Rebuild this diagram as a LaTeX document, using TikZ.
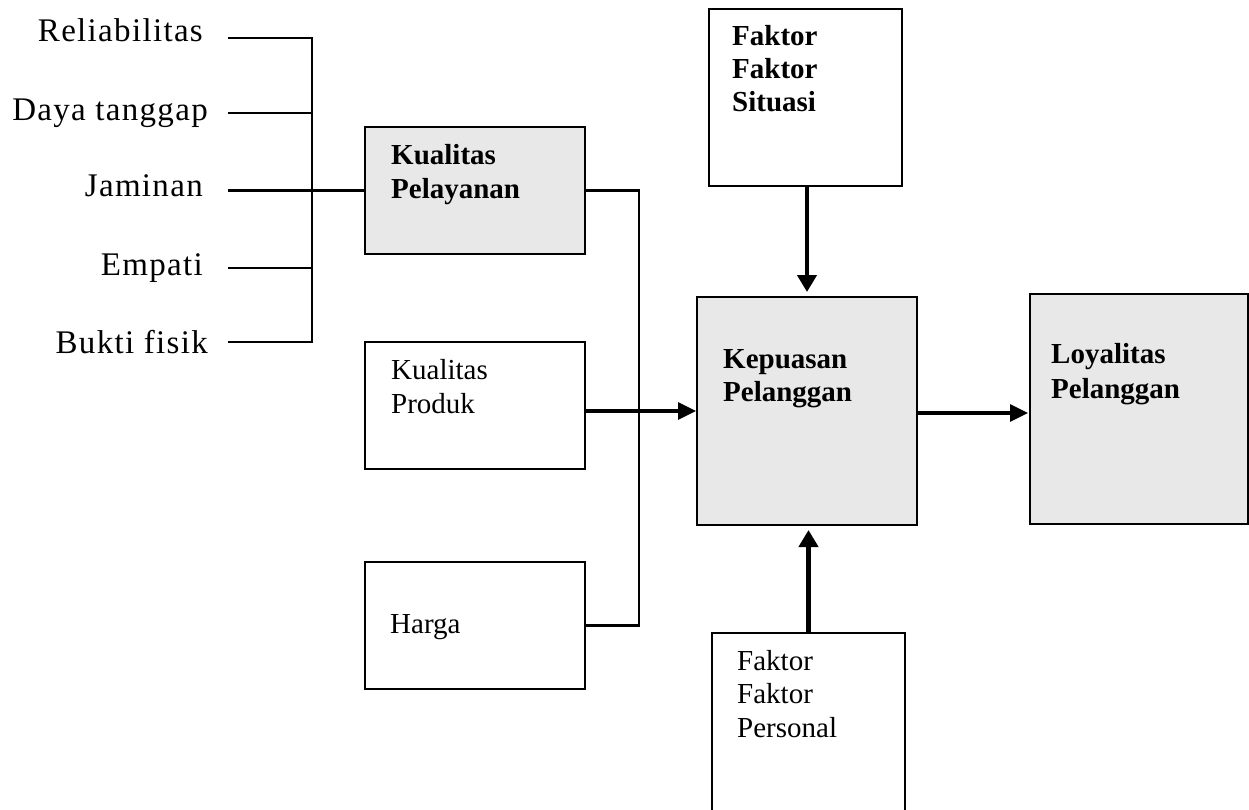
\documentclass[tikz,border=0pt]{standalone}
\usepackage{fontspec}
\setmainfont{Liberation Serif}
\usetikzlibrary{arrows.meta}
\definecolor{boxgray}{HTML}{E8E8E8}
\begin{document}
\begin{tikzpicture}[x=1pt,y=-1pt,
  frame/.style={draw=black,line width=2.7pt,inner sep=0pt,outer sep=0pt},
  conn/.style={line width=2.7pt},
  arrv/.style={line width=4.2pt,-{Triangle[length=17pt,width=19pt]}},
  arrh/.style={line width=3.3pt,-{Triangle[length=18pt,width=17pt]}},
  side/.style={inner sep=0pt,anchor=base east,font=\fontsize{33}{38}\selectfont\addfontfeatures{LetterSpace=4}},
  intext/.style={inner sep=0pt,anchor=base west,align=left,font=\fontsize{29}{34}\selectfont},
  boldtext/.style={intext,font=\fontsize{29}{34}\selectfont\bfseries},
]
\useasboundingbox (0,0) rectangle (1249,809);
\clip (0,0) rectangle (1249,809);
% boxes
\node[frame,fill=boxgray,minimum width=220pt,minimum height=127pt] (kp) at (475,190.5) {};
\node[frame,minimum width=220pt,minimum height=127pt] (kpr) at (475,405.5) {};
\node[frame,minimum width=220pt,minimum height=127pt] (hg) at (475,625.5) {};
\node[frame,minimum width=193pt,minimum height=177pt] (fs) at (805.5,97.5) {};
\node[frame,fill=boxgray,minimum width=220pt,minimum height=228pt] (kep) at (807,411) {};
\node[frame,fill=boxgray,minimum width=218pt,minimum height=230pt] (loy) at (1139,409) {};
\node[frame,minimum width=193pt,minimum height=217pt] (fp) at (808.5,741.5) {};
% texts (anchor = baseline of the last line)
\node[boldtext] (tkp) at (391,198) {Kualitas\\Pelayanan};
\node[intext] (tkpr) at (391,413) {Kualitas\\Produk};
\node[intext] (thg) at (390,633) {Harga};
\node[boldtext,font=\fontsize{29}{33}\selectfont\bfseries] (tfs) at (732,111) {Faktor\\Faktor\\Situasi};
\node[boldtext,font=\fontsize{29}{33}\selectfont\bfseries] (tkep) at (723,401) {Kepuasan\\Pelanggan};
\node[boldtext,font=\fontsize{29}{35}\selectfont\bfseries] (tloy) at (1051,398) {Loyalitas\\Pelanggan};
\node[intext,font=\fontsize{29}{33.5}\selectfont] (tfp) at (737,737) {Faktor\\Faktor\\Personal};
% left labels
\node[side] (rel) at (203,41) {Reliabilitas};
\node[side] (day) at (208,120) {Daya tanggap};
\node[side] (jam) at (203,196) {Jaminan};
\node[side] (emp) at (203,275) {Empati};
\node[side] (buk) at (208,353) {Bukti fisik};
\coordinate (l1) at (228,38);
\coordinate (l2) at (228,113);
\coordinate (l3) at (228,190.5);
\coordinate (l4) at (228,268);
\coordinate (l5) at (228,342);
\coordinate (b1) at (312,38);
\coordinate (b5) at (312,342);
\draw[conn] (l1) -- (b1) -- (b5) -- (l5);
\draw[conn] (l2) -- (l2 -| b1);
\draw[conn] (l4) -- (l4 -| b1);
\draw[conn] (l3) -- (kp.west);
% collector
\coordinate (c1) at (639,190.5);
\coordinate (c2) at (639,625.5);
\draw[conn] (kp.east) -- (c1) -- (c2) -- (hg.east);
\draw[arrh,shorten >=1pt] (kpr.east |- kep.west) -- (kep.west);
% factor arrows
\draw[arrv,shorten >=5pt] (fs.south -| kep.north) -- (kep.north);
\draw[arrv,shorten >=5pt] (fp.north) -- (fp.north |- kep.south);
\draw[arrh,shorten >=2pt] (kep.east |- 0,413) -- (loy.west |- 0,413);
\end{tikzpicture}
\end{document}
